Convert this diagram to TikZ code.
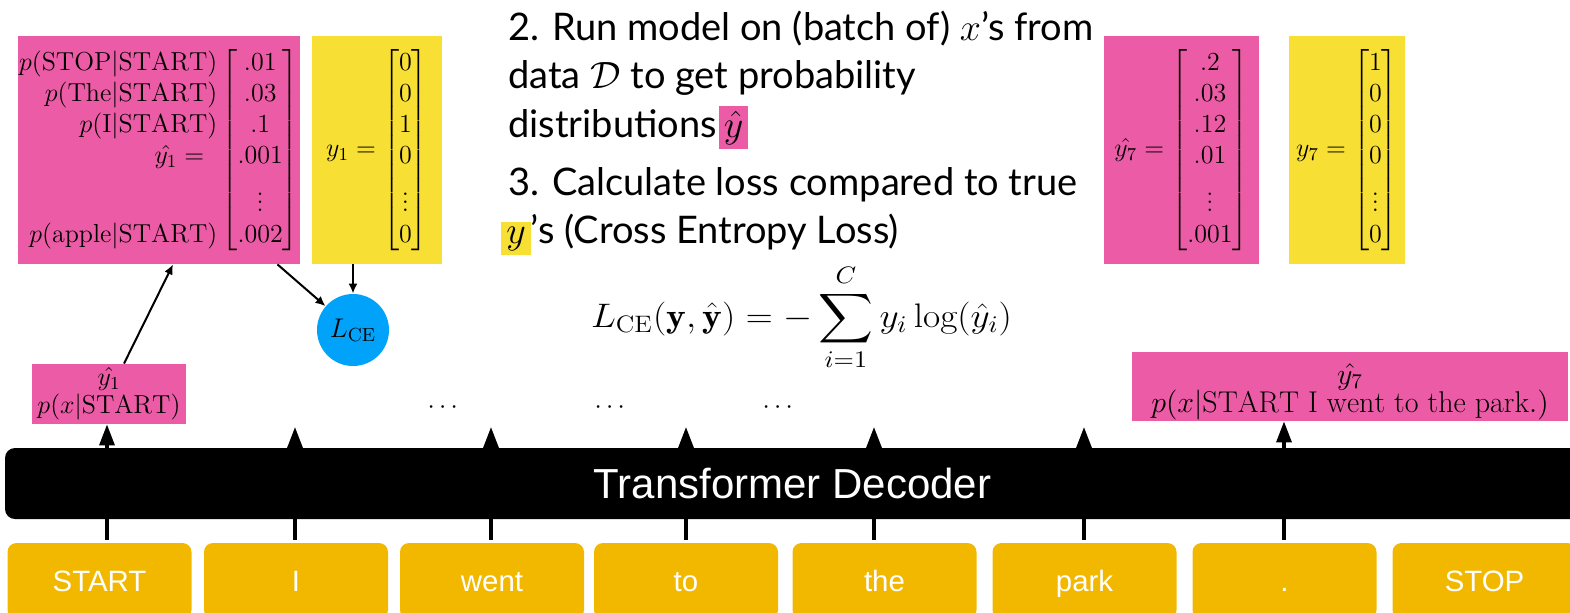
\RequirePackage{fix-cm}
\documentclass[tikz,border=0pt]{standalone}
\usepackage{amsmath}
\usepackage{graphicx}
\usepackage{fontspec}
\newfontfamily\avenirfont{Lato}
\newfontfamily\helvfont{Liberation Sans}
\usetikzlibrary{arrows.meta,calc}
\definecolor{pinkc}{RGB}{236,92,166}
\definecolor{yellowc}{RGB}{248,223,52}
\definecolor{tokc}{RGB}{242,184,0}
\definecolor{cyanc}{RGB}{0,162,250}
\newcommand{\hlpink}[1]{{\setlength{\fboxsep}{2.5pt}\colorbox{pinkc}{#1}}}
\newcommand{\hlyel}[1]{{\setlength{\fboxsep}{2.5pt}\colorbox{yellowc}{#1}}}
\newcommand{\mfont}{\fontsize{13}{15.5}\selectfont}
\begin{document}
\begin{tikzpicture}[x=0.5pt,y=-0.5pt,
  token/.style={fill=tokc, rounded corners=4.5pt, minimum width=92pt, minimum height=38pt, inner sep=0pt, text=white, font=\helvfont\fontsize{14.7}{16}\selectfont, text height=10.5pt, text depth=0pt},
  decoder/.style={fill=black, rounded corners=5pt, minimum width=787.5pt, minimum height=35.5pt, inner sep=0pt, text=white, font=\helvfont\fontsize{21}{24}\selectfont, text height=15pt, text depth=0pt},
  pinkbox/.style={fill=pinkc, inner sep=0pt, font=\mfont},
  yelbox/.style={fill=yellowc, inner sep=0pt, font=\mfont},
  txt/.style={inner sep=0pt, anchor=base west, font=\avenirfont\fontsize{19}{23}\selectfont},
  feed/.style={line width=1.65pt, shorten <=1.5pt, -{Triangle[width=7.5pt,length=10.5pt]}},
  link/.style={line width=1pt, -{Latex[length=5pt,width=4.5pt]}},
  lossnode/.style={circle, fill=cyanc, minimum size=36pt, inner sep=0pt, font=\fontsize{13.5}{15}\selectfont},
  dots/.style={inner sep=0pt, font=\fontsize{13}{14}\selectfont}
]
\useasboundingbox (0,0) rectangle (1570,612);
\clip (0,0) rectangle (1570,612);

% tokens
\node[token] (t1) at (99.5,581) {START};
\node[token] (t2) at (296,581) {I};
\node[token] (t3) at (492,581) {went};
\node[token] (t4) at (686,581) {to};
\node[token] (t5) at (884.5,581) {the};
\node[token] (t6) at (1084.5,581) {park};
\node[token] (t7) at (1284.5,581) {.};
\node[token] (t8) at (1484.5,581) {STOP};

% output boxes
\node[pinkbox, minimum width=77pt, minimum height=30pt, align=center, font=\fontsize{13}{14}\selectfont] (S1) at (109,394) {$\hat{y_1}$\\$p(x|\mathrm{START})$};
\node[pinkbox, minimum width=218pt, minimum height=34.5pt, text height=26pt, text depth=0.5pt, font=\fontsize{15}{12.5}\selectfont] (S7) at (1350,386.5) {\begin{tabular}[b]{@{}c@{}}$\hat{y_7}$\\[-1pt]$p(x|\mathrm{START\ I\ went\ to\ the\ park.})$\end{tabular}};

% free ends
\coordinate (o1) at (107,424);
\coordinate (o2) at (295,427);
\coordinate (o3) at (491,427);
\coordinate (o4) at (686,427);
\coordinate (o5) at (874,427);
\coordinate (o6) at (1084,427);
\coordinate (o7) at (1284,421);

\draw[feed] (t1.north -| o1) -- (S1.south -| o1);
\draw[feed] (t2.north -| o2) -- (o2);
\draw[feed] (t3.north -| o3) -- (o3);
\draw[feed] (t4.north -| o4) -- (o4);
\draw[feed] (t5.north -| o5) -- (o5);
\draw[feed] (t6.north -| o6) -- (o6);
\draw[feed] (t7.north -| o7) -- (S7.south -| o7);

\node[decoder] (dec) at (792.5,483.5) {Transformer Decoder};

% dots
\node[dots] (d1) at (445,408) {$\cdots$};
\node[dots] (d2) at (612,408) {$\cdots$};
\node[dots] (d3) at (780,408) {$\cdots$};

% distributions
\node[pinkbox, minimum width=141pt, minimum height=114pt] (P1) at (159,150) {$\begin{array}{@{}r@{}}
p(\mathrm{STOP}|\mathrm{START})\\
p(\mathrm{The}|\mathrm{START})\\
p(\mathrm{I}|\mathrm{START})\\
\hat{y_1} =\hspace{6.5pt}\\[4pt]
\vphantom{\vdots}\\
p(\mathrm{apple}|\mathrm{START})
\end{array}\begin{bmatrix}.01\\.03\\.1\\.001\\[4pt]\vdots\\.002\end{bmatrix}$};
\node[yelbox, minimum width=65pt, minimum height=114pt] (Y1) at (377,150) {$y_1 = \begin{bmatrix}0\\0\\1\\0\\[4pt]\vdots\\0\end{bmatrix}$};
\node[pinkbox, minimum width=77.5pt, minimum height=114pt] (P7) at (1181.5,150) {$\hat{y_7} = \begin{bmatrix}.2\\.03\\.12\\.01\\[4pt]\vdots\\.001\end{bmatrix}$};
\node[yelbox, minimum width=58pt, minimum height=114pt] (Y7) at (1347,150) {$y_7 = \begin{bmatrix}1\\0\\0\\0\\[4pt]\vdots\\0\end{bmatrix}$};

\node[lossnode] (lce) at (353,330) {$L_{\mathrm{CE}}$};

\draw[link] ($(S1.north)+(7.5pt,0)$) -- ($(P1.south)+(7pt,0)$);
\draw[link] (P1.-44) -- (lce);
\draw[link] (Y1.south -| lce.north) -- (lce.north);

% text
\node[txt] (l1) at (508,40) {2. Run model on (batch of) $x$’s from};
\node[txt] (l2) at (508,88) {data $\mathcal{D}$ to get probability};
\node[txt] (l3) at (508,137) {distributions\hspace{1pt}\hlpink{$\hat{y}$}};
\node[txt] (l4) at (508,195) {3. Calculate loss compared to true};
\node[txt] (l5) at (501,243) {\hlyel{$y$}’s (Cross Entropy Loss)};

\node[inner sep=0pt, anchor=base, font=\fontsize{17}{20}\selectfont] (eq) at (801.5,327) {\scalebox{1.1}[1]{$\displaystyle L_{\mathrm{CE}}(\mathbf{y},\hat{\mathbf{y}}) = -\sum_{i=1}^{C} y_i \log(\hat{y}_i)$}};
\end{tikzpicture}
\end{document}
